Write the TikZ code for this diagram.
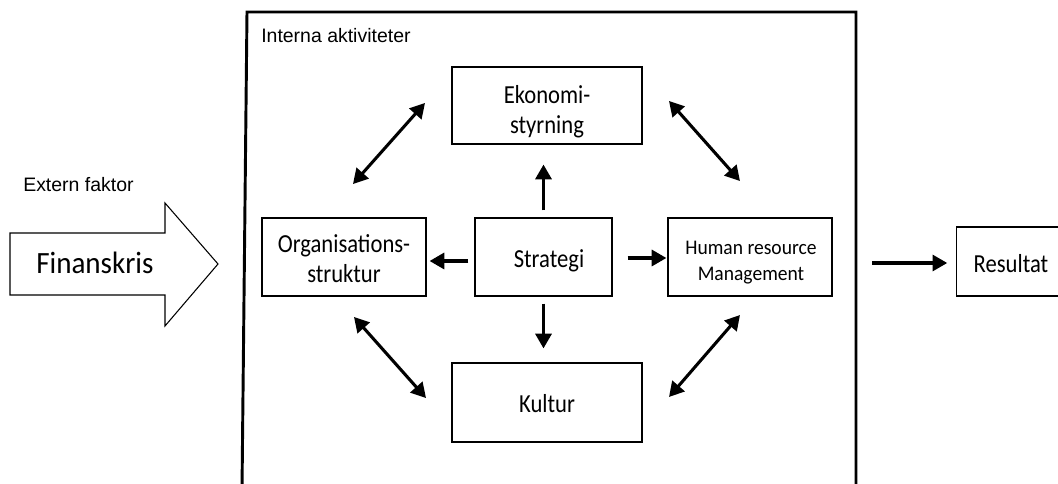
\documentclass[tikz,border=0pt]{standalone}
\usepackage{fontspec}
\setmainfont{Carlito}
% Carlito set slightly condensed, so that glyphs are taller at the same width
\newfontfamily\boxfont{Carlito}[FakeStretch=0.87]
\newfontfamily\widefont{Carlito}[FakeStretch=0.94]
\newfontfamily\arialfont{Liberation Sans}
\usetikzlibrary{arrows.meta}

\tikzset{
  box/.style={draw, line width=0.9pt, inner sep=0pt},
  boxtext/.style={inner sep=0pt, anchor=base, align=center,
                  font=\boxfont\fontsize{19.5}{22.5}\selectfont},
  smalltext/.style={boxtext, font=\widefont\fontsize{15.6}{19.5}\selectfont},
  label/.style={inner sep=0pt, anchor=base west,
                font=\arialfont\fontsize{14.6}{17}\selectfont},
  tip/.tip={Triangle[length=11pt,width=12pt]},
  arr/.style={line width=2.3pt, -tip},
  darr/.style={line width=2.3pt, tip-tip},
}

\begin{document}
\begin{tikzpicture}[x=0.75pt, y=-0.75pt]
  \useasboundingbox (0,0) rectangle (1058,484);

  % frame of the internal activities, open at the bottom
  \draw[line width=2.2pt] (242,490) -- (247,12) -- (856,12) -- (856,490);
  \node[label] (intern) at (261,43) {Interna aktiviteter};

  % external factor: block arrow
  \node[label] (extern) at (23,192) {Extern faktor};
  \draw[line width=0.8pt, line join=miter]
    (10,233) -- (165,233) -- (165,203) -- (218,264) -- (165,326)
    -- (165,295) -- (10,295) -- cycle;
  \node[inner sep=0pt, anchor=base west, font=\widefont\fontsize{23.2}{26}\selectfont]
    (fin) at (36,274) {Finanskris};

  % boxes
  \node[box, minimum width=142.5pt, minimum height=57.75pt] (eko) at (547,105.5) {};
  \node[box, minimum width=123pt, minimum height=58.5pt] (org) at (344,257) {};
  \node[box, minimum width=102.75pt, minimum height=58.5pt] (strat) at (543.5,257) {};
  \node[box, minimum width=123pt, minimum height=58.5pt] (hrm) at (750,257) {};
  \node[box, minimum width=142.5pt, minimum height=59.25pt] (kult) at (547,402.5) {};
  \node[box, minimum width=82pt, minimum height=51.75pt] (res) at (1011.5,261.5) {};

  % box texts, placed on the baseline of their last line
  \node[boxtext] (ekot)   at (547,134)   {Ekonomi-\\styrning};
  \node[boxtext] (orgt)   at (344,283)   {Organisations-\\struktur};
  \node[boxtext] (stratt) at (549,268)   {Strategi};
  \node[smalltext] (hrmt) at (751,281)   {Human resource\\Management};
  \node[boxtext] (kultt)  at (547,413)   {Kultur};
  \node[boxtext] (rest)   at (1011,273)  {Resultat};

  % arrows out of the strategy box
  \draw[arr, shorten <=5.25pt, shorten >=15pt]
    (strat.north) -- (strat.north |- eko.south);
  \draw[arr, shorten <=5.25pt, shorten >=10.5pt]
    (strat.south) -- (strat.south |- kult.north);
  \draw[arr, shorten <=4.5pt, shorten >=2.25pt]
    ([yshift=-3pt]strat.west) -- ([yshift=-3pt]strat.west -| org.east);
  \draw[arr, shorten <=11.25pt, shorten >=0.75pt]
    ([yshift=-0.75pt]strat.east) -- ([yshift=-0.75pt]strat.east -| hrm.west);

  % two-way links between the outer boxes
  \coordinate (oe1) at (353,184);  \coordinate (oe2) at (425,103);
  \coordinate (eh1) at (669,101);  \coordinate (eh2) at (740,181);
  \coordinate (ok1) at (354,317);  \coordinate (ok2) at (426,398);
  \coordinate (kh1) at (669,397);  \coordinate (kh2) at (740,315);
  \draw[darr] (oe1) -- (oe2);
  \draw[darr] (eh1) -- (eh2);
  \draw[darr] (ok1) -- (ok2);
  \draw[darr] (kh1) -- (kh2);

  % result
  \coordinate (resin) at (872,263);
  \draw[arr, shorten >=6.75pt] (resin) -- (resin -| res.west);
\end{tikzpicture}
\end{document}
